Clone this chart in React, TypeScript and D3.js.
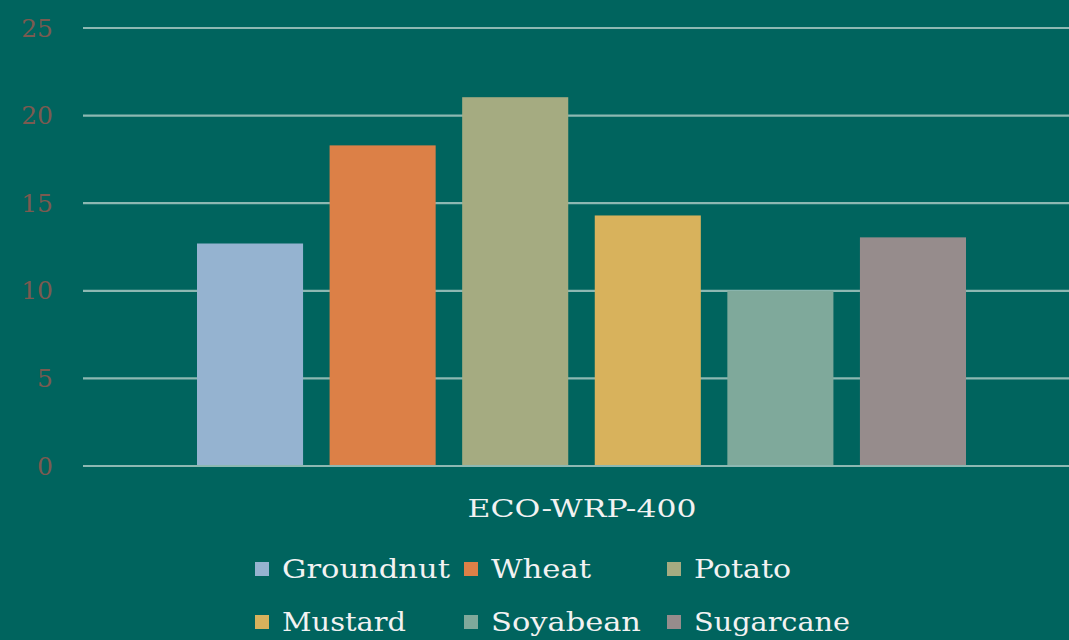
import React from "react";
import * as d3 from "d3";

const categories = ["ECO-WRP-400"];
const seriesNames = ["Groundnut", "Wheat", "Potato", "Mustard", "Soyabean", "Sugarcane"];
const seriesValues = [12.7, 18.3, 21.05, 14.3, 10.0, 13.05];
const seriesColors = ["#95b3d0", "#dc8047", "#a5ab81", "#d8b25c", "#7fa99b", "#968c8c"];
const yTicks = [0, 5, 10, 15, 20, 25];

const W = 1069;
const H = 640;
const FONT = "'DejaVu Serif', 'Liberation Serif', serif";

export default function App() {
  const left = 83;
  const right = 1080;
  const top = 28;
  const bottom = 466;

  const y = d3.scaleLinear().domain([0, 25]).range([bottom, top]);
  const x0 = d3.scaleBand().domain(categories).range([left, right]);
  const x1 = d3
    .scaleBand()
    .domain(seriesNames)
    .range([197 - left, 966 - left + 0])
    .paddingInner(0.2)
    .paddingOuter(0);

  const legendCols = [255, 464, 667];
  const legendRows = [569, 622];
  const legendWidths = [168, 100, 97, 124, 150, 156];

  return (
    <svg
      width={W}
      height={H}
      style={{ position: "absolute", left: 0, top: 0, display: "block" }}
    >
      <rect x={0} y={0} width={W} height={H} fill="#00645e" />
      {yTicks.map((t) => (
        <g key={t}>
          <line x1={left} x2={right} y1={y(t)} y2={y(t)} stroke="#8db8b2" strokeWidth={2.2} />
          <text
            x={53}
            y={y(t)}
            textAnchor="end"
            dominantBaseline="central"
            fontFamily={FONT}
            fontSize={25}
            fill="#7c5a50"
          >
            {t}
          </text>
        </g>
      ))}
      {categories.map((c) => (
        <g key={c} transform={`translate(${x0(c)},0)`}>
          {seriesNames.map((s, i) => (
            <rect
              key={s}
              x={x1(s)}
              y={y(seriesValues[i])}
              width={x1.bandwidth()}
              height={y(0) - y(seriesValues[i])}
              fill={seriesColors[i]}
            />
          ))}
        </g>
      ))}
      <line x1={left} x2={right} y1={y(0)} y2={y(0)} stroke="#8db8b2" strokeWidth={2.2} />
      <text
        x={582}
        y={508}
        textAnchor="middle"
        dominantBaseline="central"
        fontFamily={FONT}
        fontSize={25}
        fill="#f2f2f2"
        textLength={229}
        lengthAdjust="spacingAndGlyphs"
      >
        {categories[0]}
      </text>
      {seriesNames.map((s, i) => {
        const cx = legendCols[i % 3];
        const cy = legendRows[Math.floor(i / 3)];
        return (
          <g key={s}>
            <rect x={cx} y={cy - 7} width={14} height={14} fill={seriesColors[i]} />
            <text
              x={cx + 27}
              y={cy}
              dominantBaseline="central"
              fontFamily={FONT}
              fontSize={26}
              fill="#f2f2f2"
              textLength={legendWidths[i]}
              lengthAdjust="spacingAndGlyphs"
            >
              {s}
            </text>
          </g>
        );
      })}
    </svg>
  );
}
